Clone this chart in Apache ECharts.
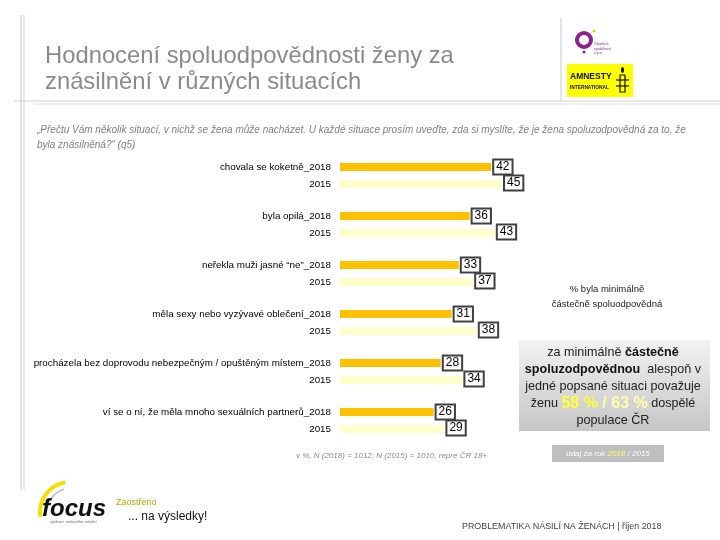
<!DOCTYPE html>
<html><head><meta charset="utf-8">
<script src="https://cdn.jsdelivr.net/npm/echarts@6/dist/echarts.min.js"></script>
<style>html,body{margin:0;padding:0;background:#fff}#c{width:720px;height:540px}</style>
</head><body><div id="c"></div>
<script>
var categories = ['chovala se koketně', 'byla opilá', 'neřekla muži jasné “ne”', 'měla sexy nebo vyzývavé oblečení', 'procházela bez doprovodu nebezpečným / opuštěným místem', 'ví se o ní, že měla mnoho sexuálních partnerů'];
var values2018 = [42, 36, 33, 31, 28, 26];
var values2015 = [45, 43, 37, 38, 34, 29];
var yearLabels = ['2018', '2015'];

var chart = echarts.init(document.getElementById('c'));
var FF = '"Liberation Sans", Arial, sans-serif';
var labelBox = {
  show: true, position: 'right', distance: 3, color: '#000', fontSize: 12, lineHeight: 12, fontFamily: FF,
  backgroundColor: '#fff', borderColor: '#404040', borderWidth: 2, padding: [1, 2, 0, 2]
};
chart.setOption({
  animation: false,
  backgroundColor: '#fff',
  grid: { left: 340, right: 20, top: 151, height: 294 },
  xAxis: { type: 'value', min: 0, max: 100, show: false },
  yAxis: {
    type: 'category', data: categories, inverse: true,
    axisLine: { show: false }, axisTick: { show: false },
    axisLabel: {
      margin: 9, fontSize: 9.8, fontFamily: FF, color: '#000', align: 'right', lineHeight: 17,
      formatter: function (v) { return v + '_' + yearLabels[0] + '\n' + yearLabels[1]; }
    }
  },
  series: [
    { name: yearLabels[0], type: 'bar', data: values2018, barWidth: 8, barGap: '112%',
      itemStyle: { color: '#FFC000' }, label: labelBox },
    { name: yearLabels[1], type: 'bar', data: values2015, barWidth: 8,
      itemStyle: { color: '#FFFFCC' }, label: Object.assign({}, labelBox, { offset: [0, -1] }) }
  ],
  graphic: [
    // frame lines
    { type: 'line', shape: { x1: 21, y1: 15, x2: 21, y2: 490 }, style: { stroke: '#c8c8c8', lineWidth: 1 } },
    { type: 'line', shape: { x1: 24, y1: 15, x2: 24, y2: 490 }, style: { stroke: '#d0d0d0', lineWidth: 1 } },
    { type: 'line', shape: { x1: 14, y1: 101, x2: 720, y2: 101 }, style: { stroke: '#d0d0d0', lineWidth: 1 } },
    { type: 'line', shape: { x1: 34, y1: 104, x2: 720, y2: 104 }, style: { stroke: '#e0e0e0', lineWidth: 1 } },
    { type: 'line', shape: { x1: 561, y1: 18, x2: 561, y2: 100 }, style: { stroke: '#c8c8c8', lineWidth: 1 } },
    // title
    { type: 'text', left: 45, top: 43, style: { text: 'Hodnocení spoluodpovědnosti ženy za\nznásilnění v různých situacích',
      font: '23.8px ' + FF, fill: '#8a8a8a', lineHeight: 26 } },
    // subtitle
    { type: 'text', left: 37, top: 123, style: { text: '„Přečtu Vám několik situací, v nichž se žena může nacházet. U každé situace prosím uveďte, zda si myslíte, že je žena spoluzodpovědná za to, že\nbyla znásilněná?“ (q5)',
      font: 'italic 10px ' + FF, fill: '#808080', lineHeight: 15 } },
    // legend note
    { type: 'text', x: 607, y: 297, style: { text: '% byla minimálně\nčástečně spoluodpovědná', font: '9.5px ' + FF, fill: '#222',
      align: 'center', verticalAlign: 'middle', lineHeight: 15 } },
    // gray box
    { type: 'rect', shape: { x: 519, y: 340, width: 191, height: 91 },
      style: { fill: new echarts.graphic.LinearGradient(0, 0, 0, 1, [{ offset: 0, color: '#f2f2f2' }, { offset: 1, color: '#c6c6c6' }]) } },
    { type: 'text', x: 613, y: 387, style: {
      text: '{n|za minimálně }{b|částečně}\n{b|spoluzodpovědnou}{n|  alespoň v}\n{n|jedné popsané situaci považuje}\n{n|ženu }{y1|58 %}{y2| / 63 %}{n| dospělé}\n{n|populace ČR}',
      align: 'center', verticalAlign: 'middle', lineHeight: 17,
      rich: {
        n: { font: '12.6px ' + FF, fill: '#222', lineHeight: 17 },
        b: { font: 'bold 12.6px ' + FF, fill: '#111', lineHeight: 17 },
        y1: { font: 'bold 16px ' + FF, fill: '#ffff33', lineHeight: 17 },
        y2: { font: 'bold 16px ' + FF, fill: '#ffffaa', lineHeight: 17 }
      } } },
    // small year box
    { type: 'rect', shape: { x: 552, y: 445, width: 112, height: 17 }, style: { fill: '#bfbfbf' } },
    { type: 'text', x: 608, y: 454, style: { text: '{w|údaj za rok }{y|2018}{w| / 2015}', align: 'center', verticalAlign: 'middle',
      rich: { w: { font: 'italic 8px ' + FF, fill: '#fff' }, y: { font: 'italic 8px ' + FF, fill: '#ffff66' } } } },
    // footnote
    { type: 'text', left: 296, top: 452, style: { text: 'v %, N (2018) = 1012; N (2015) = 1010, repre ČR 18+', font: 'italic 8px ' + FF, fill: '#8a8a8a' } },
    // footer
    { type: 'text', left: 462, top: 522, style: { text: 'PROBLEMATIKA NÁSILÍ NA ŽENÁCH | říjen 2018', font: '8.9px ' + FF, fill: '#404040' } },
    // focus logo
    { type: 'arc', shape: { cx: 70, cy: 512, r: 30, startAngle: Math.PI * 0.95, endAngle: Math.PI * 1.45 }, style: { stroke: '#f2e200', lineWidth: 4, fill: 'none' } },
    { type: 'arc', shape: { cx: 72, cy: 514, r: 26, startAngle: Math.PI * 1.0, endAngle: Math.PI * 1.4 }, style: { stroke: '#bdbdbd', lineWidth: 1.5, fill: 'none' } },
    { type: 'text', left: 42, top: 497, style: { text: 'focus', font: 'italic bold 24px ' + FF, fill: '#111' } },
    { type: 'text', left: 50, top: 520, style: { text: 'výzkum  veřejného mínění', font: '4px ' + FF, fill: '#666' } },
    { type: 'text', left: 116, top: 498, style: { text: 'Zaostřeno', font: '9px ' + FF, fill: '#b8a800' } },
    { type: 'text', left: 128, top: 511, style: { text: '... na výsledky!', font: '12px ' + FF, fill: '#111' } },
    // top-right logos
    { type: 'circle', shape: { cx: 584, cy: 40, r: 7 }, style: { fill: 'none', stroke: '#8e1f8e', lineWidth: 4 } },
    { type: 'circle', shape: { cx: 584, cy: 52, r: 1.5 }, style: { fill: '#8e1f8e' } },
    { type: 'circle', shape: { cx: 594, cy: 31, r: 1.5 }, style: { fill: '#e0d000' } },
    { type: 'text', left: 594, top: 42, style: { text: 'Otevřená\nspolečnost\no.p.s.', font: '3.5px ' + FF, fill: '#8e1f8e', lineHeight: 4.5 } },
    { type: 'rect', shape: { x: 567, y: 64, width: 66, height: 33 }, style: { fill: '#ffff00' } },
    { type: 'text', left: 570, top: 72, style: { text: 'AMNESTY', font: 'bold 8.5px ' + FF, fill: '#111' } },
    { type: 'text', left: 570, top: 85, style: { text: 'INTERNATIONAL', font: 'bold 4.8px ' + FF, fill: '#111' } },
    { type: 'rect', shape: { x: 620, y: 75, width: 5, height: 17 }, style: { fill: 'none', stroke: '#111', lineWidth: 1.2 } },
    { type: 'line', shape: { x1: 616, y1: 80, x2: 629, y2: 80 }, style: { stroke: '#111', lineWidth: 1.2 } },
    { type: 'line', shape: { x1: 616, y1: 86, x2: 629, y2: 86 }, style: { stroke: '#111', lineWidth: 1.2 } },
    { type: 'ellipse', shape: { cx: 622.5, cy: 70, rx: 1.5, ry: 3 }, style: { fill: '#111' } }
  ]
});
</script></body></html>
